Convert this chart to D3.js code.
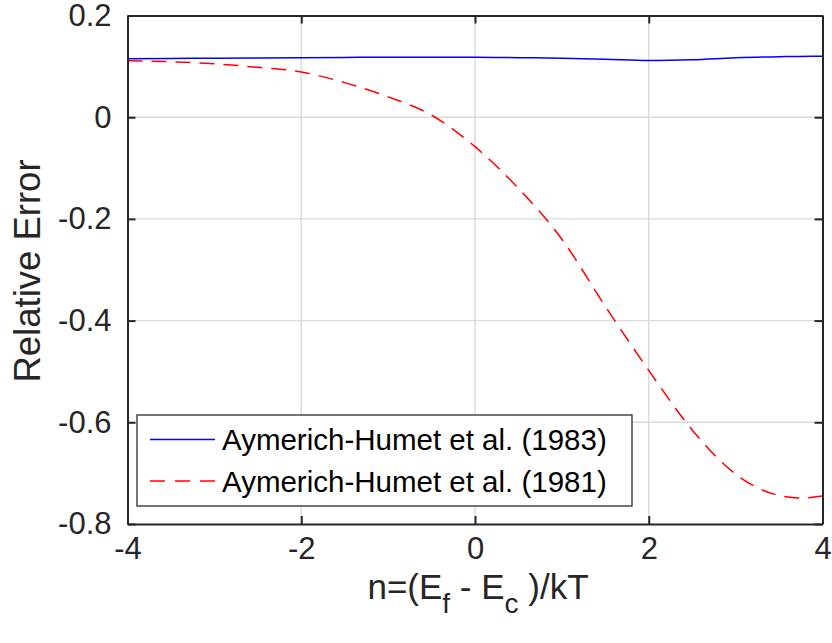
<!DOCTYPE html>
<html>
<head>
<meta charset="utf-8">
<script src="https://cdn.jsdelivr.net/npm/d3@7"></script>
<style>
  html, body { margin: 0; padding: 0; background: #fff; }
  svg { display: block; }
  text { font-family: "Liberation Sans", Arial, Helvetica, sans-serif; fill: #262626; }
</style>
</head>
<body>
<svg id="chart" width="832" height="643"></svg>
<script>
// Reduced energy n = (Ef - Ec)/kT
const etaValues = [-4, -3.5, -3, -2.5, -2, -1.5, -1, -0.5, 0, 0.5, 1, 1.5, 2, 2.5, 3, 3.5, 3.75, 4];

// Relative error of the two approximations
const error1983 = [0.115, 0.1155, 0.116, 0.1165, 0.117, 0.1175, 0.118, 0.118, 0.118, 0.117, 0.116, 0.114, 0.1115, 0.113, 0.117, 0.119, 0.1195, 0.120];
const error1981 = [0.111, 0.109, 0.105, 0.098, 0.089, 0.068, 0.040, 0.004, -0.058, -0.140, -0.240, -0.372, -0.498, -0.615, -0.702, -0.744, -0.749, -0.745];

const xTicks = [-4, -2, 0, 2, 4];
const yTicks = [0.2, 0, -0.2, -0.4, -0.6, -0.8];

const seriesNames = ["Aymerich-Humet et al. (1983)", "Aymerich-Humet et al. (1981)"];
const seriesColors = ["#0000ff", "#ff0000"];

const svg = d3.select("#chart");
const plotLeft = 127.5, plotRight = 822.5, plotTop = 15.5, plotBottom = 524;

const x = d3.scaleLinear().domain([-4, 4]).range([plotLeft, plotRight]);
const y = d3.scaleLinear().domain([-0.8, 0.2]).range([plotBottom, plotTop]);

const axisColor = "#262626";
const tickLen = 8;
const tickFont = "31px";

// plain hyphen for negative numbers
const fmtX = d => String(d);
const fmtY = d => (d === 0 ? "0" : (d < 0 ? "-" : "") + Math.abs(d).toFixed(1));

// Grid
const grid = svg.append("g");
grid.selectAll("line.gx").data(xTicks.slice(1, -1)).join("line")
  .attr("x1", d => x(d)).attr("x2", d => x(d))
  .attr("y1", plotTop).attr("y2", plotBottom)
  .attr("stroke", "#dadada").attr("stroke-width", 1.4);
grid.selectAll("line.gy").data(yTicks.slice(1, -1)).join("line")
  .attr("y1", d => y(d)).attr("y2", d => y(d))
  .attr("x1", plotLeft).attr("x2", plotRight)
  .attr("stroke", "#dadada").attr("stroke-width", 1.4);

// Curves
const line = d3.line().x(d => x(d[0])).y(d => y(d[1])).curve(d3.curveMonotoneX);
const series = [error1983, error1981];
svg.append("defs").append("clipPath").attr("id", "plotclip")
  .append("rect").attr("x", plotLeft).attr("y", plotTop)
  .attr("width", plotRight - plotLeft).attr("height", plotBottom - plotTop);

svg.append("g").attr("clip-path", "url(#plotclip)")
  .selectAll("path").data(series).join("path")
  .attr("d", s => line(etaValues.map((e, i) => [e, s[i]])))
  .attr("fill", "none")
  .attr("stroke", (s, i) => seriesColors[i])
  .attr("stroke-width", 1.5)
  .attr("stroke-dasharray", (s, i) => i === 1 ? "15,9" : null);

// Axes (box with inward ticks on all sides)
const axisBottom = d3.axisBottom(x).tickValues(xTicks).tickSizeInner(-tickLen).tickSizeOuter(0).tickPadding(13).tickFormat(fmtX);
const axisTop = d3.axisTop(x).tickValues(xTicks).tickSizeInner(-tickLen).tickSizeOuter(0).tickFormat("");
const axisLeft = d3.axisLeft(y).tickValues(yTicks).tickSizeInner(-tickLen).tickSizeOuter(0).tickPadding(16).tickFormat(fmtY);
const axisRight = d3.axisRight(y).tickValues(yTicks).tickSizeInner(-tickLen).tickSizeOuter(0).tickFormat("");

function styleAxis(g) {
  g.select(".domain").attr("stroke", axisColor).attr("stroke-width", 2);
  g.selectAll(".tick line").attr("stroke", axisColor).attr("stroke-width", 2);
  g.selectAll(".tick text").attr("fill", axisColor).style("font-size", tickFont)
    .style("font-family", '"Liberation Sans", Arial, Helvetica, sans-serif');
}
svg.append("g").attr("transform", `translate(0,${plotBottom})`).call(axisBottom).call(styleAxis);
svg.append("g").attr("transform", `translate(0,${plotTop})`).call(axisTop).call(styleAxis);
svg.append("g").attr("transform", `translate(${plotLeft},0)`).call(axisLeft).call(styleAxis);
svg.append("g").attr("transform", `translate(${plotRight},0)`).call(axisRight).call(styleAxis);

// Axis labels
svg.append("text")
  .attr("transform", `translate(40,271) rotate(-90)`)
  .attr("text-anchor", "middle")
  .style("font-size", "36.5px")
  .text("Relative Error");

const xl = svg.append("text")
  .attr("x", 478).attr("y", 599)
  .attr("text-anchor", "middle")
  .style("font-size", "35px");
xl.append("tspan").text("n=(E");
xl.append("tspan").attr("dy", 14).style("font-size", "28px").text("f");
xl.append("tspan").attr("dy", -14).text(" - E");
xl.append("tspan").attr("dy", 14).style("font-size", "28px").text("c");
xl.append("tspan").attr("dy", -14).text(" )/kT");

// Legend
const lg = svg.append("g");
lg.append("rect")
  .attr("x", 137).attr("y", 415).attr("width", 495).attr("height", 91)
  .attr("fill", "#fff").attr("stroke", "#3a3a3a").attr("stroke-width", 1.4);
const rows = lg.selectAll("g.row").data(seriesNames).join("g")
  .attr("transform", (d, i) => `translate(0,${439.5 + i * 41.5})`);
rows.append("line")
  .attr("x1", 150).attr("x2", 215)
  .attr("stroke", (d, i) => seriesColors[i])
  .attr("stroke-width", 1.5)
  .attr("stroke-dasharray", (d, i) => i === 1 ? "15,10" : null);
rows.append("text")
  .attr("x", 222).attr("y", 10.5)
  .style("font-size", "29.5px")
  .style("fill", "#000")
  .text(d => d);
</script>
</body>
</html>
